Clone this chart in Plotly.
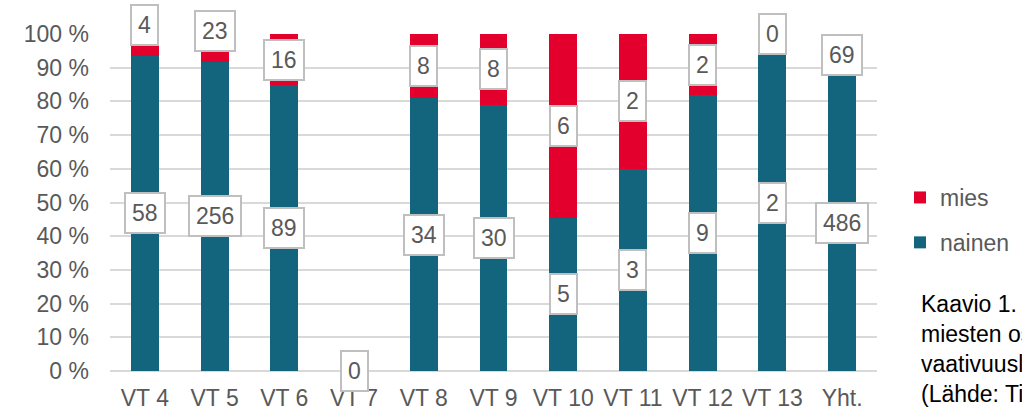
import plotly.graph_objects as go

categories = ["VT 4", "VT 5", "VT 6", "VT 7", "VT 8", "VT 9", "VT 10", "VT 11", "VT 12", "VT 13", "Yht."]
nainen = [58, 256, 89, 0, 34, 30, 5, 3, 9, 2, 486]
mies = [4, 23, 16, 0, 8, 8, 6, 2, 2, 0, 69]
y_ticks = [0, 10, 20, 30, 40, 50, 60, 70, 80, 90, 100]
y_tick_labels = [f"{v} %" for v in y_ticks]

# label pixel shifts (styling: labels moved by hand in the original)
mies_label_shift = [20, 17, 0, 0, 0, 0, 0, 0, 0, 0, 0]

totals = [a + b for a, b in zip(nainen, mies)]
n_pct = [100 * a / t if t else 0 for a, t in zip(nainen, totals)]
m_pct = [100 * b / t if t else 0 for b, t in zip(mies, totals)]

TEAL = "#13657e"
RED = "#e3002d"
FONT = "Liberation Sans, Arial, sans-serif"
GRAY = "#595959"
FS = 23

fig = go.Figure()
fig.add_trace(go.Bar(x=categories, y=n_pct, name="nainen", marker_color=TEAL,
                     marker_line_width=0, legendrank=2, legendgroup="n", hoverinfo="skip"))
fig.add_trace(go.Bar(x=categories, y=m_pct, name="mies", marker_color=RED,
                     marker_line_width=0, legendrank=1, legendgroup="m", hoverinfo="skip"))

box = dict(showarrow=False, xref="x", yref="y",
           font=dict(size=FS, color=GRAY, family=FONT),
           bgcolor="white", bordercolor="#bfbfbf", borderwidth=2, borderpad=6)
annotations = []
for i, c in enumerate(categories):
    annotations.append(dict(x=c, y=n_pct[i] / 2, text=str(nainen[i]), **box))
    if totals[i] > 0:
        annotations.append(dict(x=c, y=n_pct[i] + m_pct[i] / 2, text=str(mies[i]),
                                yshift=mies_label_shift[i], **box))

plot_w = 1022 - 110 - 145
plot_h = 412 - 34 - 41
annotations.append(dict(
    x=(919 - 110) / plot_w, y=1 - (289 - 34) / plot_h, xref="paper", yref="paper",
    showarrow=False, xanchor="left", yanchor="top", align="left",
    text="Kaavio 1. Naisten ja<br>miesten osuus<br>vaativuusluokittain<br>(Lähde: Tilasto)",
    font=dict(size=FS, color="black", family=FONT),
))

fig.update_layout(
    width=1022, height=412,
    margin=dict(l=110, r=145, t=34, b=41, autoexpand=False),
    barmode="stack", bargap=0.6,
    plot_bgcolor="white", paper_bgcolor="white",
    font=dict(family=FONT, size=FS, color=GRAY),
    showlegend=True,
    legend=dict(xref="container", yref="container", x=900 / 1022, y=1 - 176 / 412,
                xanchor="left", yanchor="top", traceorder="grouped",
                tracegroupgap=12, itemwidth=30, font=dict(size=FS, color=GRAY, family=FONT),
                bgcolor="rgba(0,0,0,0)"),
    xaxis=dict(showgrid=False, showline=False, ticks="", tickfont=dict(size=FS, color=GRAY),
               ticklabelstandoff=11, fixedrange=True),
    yaxis=dict(range=[0, 100], tickvals=y_ticks, ticktext=y_tick_labels,
               showgrid=True, gridcolor="#d9d9d9", gridwidth=1.5, zeroline=True,
               zerolinecolor="#d9d9d9", zerolinewidth=1.5, showline=False, ticks="",
               tickfont=dict(size=FS, color=GRAY), ticklabelstandoff=20, fixedrange=True),
    annotations=annotations,
)

fig.write_html("out.html")
